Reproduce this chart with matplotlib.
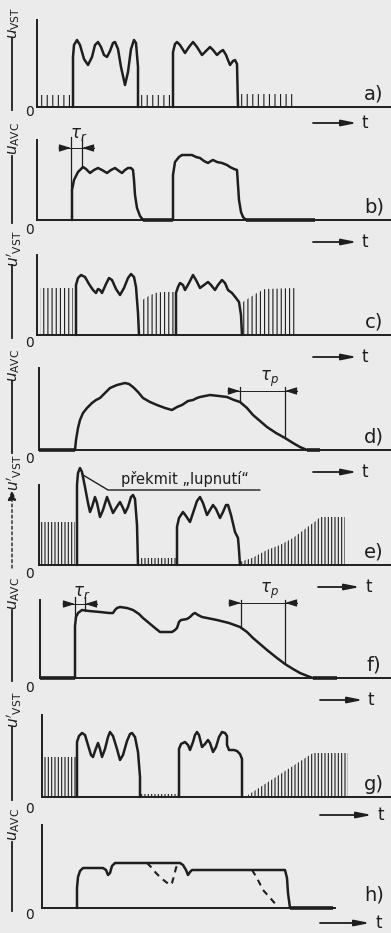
import matplotlib.pyplot as plt

plt.rcParams['font.family'] = 'DejaVu Sans'
plt.rcParams['mathtext.fontset'] = 'dejavusans'
plt.rcParams['hatch.linewidth'] = 0.8

INK = '#1e1e1e'
PAPER = '#ebebeb'

# panel geometry (baseline row in px, axis start, axis height)
baselines = [107, 220, 335, 450, 565, 678, 797, 908]
axis_t = [0, 0, 0, 2, 2, 3, 5, 5]
axis_top = [87, 80, 80, 82, 80, 78, 82, 83]
base_end = [354, 354, 354, 354, 354, 354, 354, 298]
letters = ['a)', 'b)', 'c)', 'd)', 'e)', 'f)', 'g)', 'h)']
ylabels = [r"$u_{\mathrm{VST}}$", r"$u_{\mathrm{AVC}}$", r"$u'_{\mathrm{VST}}$", r"$u_{\mathrm{AVC}}$",
           r"$u'_{\mathrm{VST}}$", r"$u_{\mathrm{AVC}}$", r"$u'_{\mathrm{VST}}$", r"$u_{\mathrm{AVC}}$"]
ylabel_u = [84, 82, 86, 85, 92, 85, 87, 84]
yline_top = [69, 64, 70, 69, 75, 68, 70, 66]
zero_u = [-5, -10, -8, -9, -9, -10, -12, -7]
tarrow_u = [-16, -22, -22, -22, -22, -22, -18, -15]
tarrow_t = [(276, 320), (276, 320), (276, 320), (276, 320), (281, 323), (283, 326), (283, 335), (283, 333)]

# a) input signal with noise between the bursts
a_pulse1 = [(36, 0), (36, 50), (37, 62), (40, 67), (43, 62), (47, 48), (51, 42), (55, 50), (58, 62), (61, 65),
            (64, 60), (67, 52), (70, 50), (73, 56), (76, 64), (78, 65), (81, 58), (84, 40), (88, 22), (91, 35),
            (94, 58), (97, 67), (99, 64), (101, 40), (101, 0)]
a_pulse2 = [(136, 0), (136, 55), (138, 63), (140, 65), (143, 62), (148, 54), (152, 60), (156, 65), (160, 60),
            (165, 52), (169, 56), (173, 60), (176, 57), (180, 52), (183, 55), (186, 57), (189, 52), (193, 42),
            (196, 46), (198, 47), (200, 43), (201, 0)]
a_carrier = [([1, 33], [12, 12]), ([103, 133], [12, 12]), ([203, 258], [13, 13])]

# b) AVC voltage
b_pulse1 = [(35, 0), (35, 30), (37, 40), (41, 48), (46, 53), (49, 51), (53, 47), (57, 50), (61, 52), (65, 50),
            (70, 47), (74, 50), (78, 52), (82, 49), (85, 47), (88, 50), (91, 52), (94, 52), (96, 50), (97, 40),
            (98, 25), (100, 12), (103, 4), (106, 0)]
b_pulse2 = [(136, 0), (136, 45), (138, 58), (142, 63), (145, 65), (150, 65), (155, 65), (159, 63), (163, 62),
            (167, 59), (171, 57), (174, 59), (176, 60), (180, 58), (185, 57), (190, 55), (193, 53), (197, 51),
            (200, 50), (201, 35), (202, 20), (204, 8), (206, 3), (209, 0)]
b_rest = [(106, 136), (209, 278)]

# c) output with noise
c_pulse1 = [(39, 0), (39, 50), (41, 57), (44, 60), (48, 58), (52, 51), (56, 45), (59, 42), (61, 46), (63, 45),
            (65, 42), (69, 51), (72, 57), (75, 55), (79, 46), (83, 40), (87, 47), (91, 57), (94, 61), (97, 58),
            (99, 48), (101, 22), (102, 0)]
c_pulse2 = [(139, 0), (139, 42), (141, 48), (143, 52), (146, 50), (148, 45), (152, 52), (156, 60), (159, 55),
            (163, 47), (167, 50), (171, 53), (174, 50), (178, 45), (181, 50), (185, 55), (188, 52), (191, 45),
            (195, 42), (199, 37), (202, 33), (204, 20), (205, 0)]
c_carrier = [([3, 36], [47, 47]), ([104, 110, 118, 126, 137], [34, 38, 42, 43, 43]),
             ([206, 212, 220, 228, 260], [33, 37, 42, 46, 47])]

# d) slow AVC
d_curve = [(38, 0), (39, 10), (41, 22), (43, 30), (46, 37), (50, 42), (55, 47), (59, 50), (63, 52), (68, 57),
           (73, 62), (80, 65), (88, 67), (92, 66), (96, 63), (101, 58), (106, 52), (113, 48), (120, 45), (128, 42),
           (135, 40), (140, 43), (145, 45), (151, 49), (156, 50), (160, 52), (163, 53), (173, 55), (182, 54),
           (190, 53), (197, 50), (203, 48), (210, 42), (216, 35), (223, 29), (230, 23), (239, 17), (248, 12),
           (256, 7), (263, 3), (270, 0)]
d_rest = [(2, 38), (270, 283)]

# e) output with overshoot
e_pulse1 = [(40, 0), (40, 80), (41, 92), (43, 97), (45, 93), (48, 78), (51, 62), (53, 53), (55, 58), (58, 68),
            (60, 62), (63, 48), (66, 55), (70, 68), (73, 60), (76, 52), (79, 57), (83, 63), (86, 57), (88, 52),
            (91, 58), (94, 68), (96, 70), (98, 66), (100, 40), (101, 0)]
e_pulse2 = [(140, 0), (140, 38), (142, 47), (146, 53), (149, 49), (153, 43), (157, 55), (160, 64), (163, 68),
            (166, 62), (170, 50), (173, 55), (176, 60), (179, 56), (183, 47), (186, 53), (189, 60), (191, 60),
            (194, 50), (198, 33), (201, 27), (202, 15), (203, 0)]
e_carrier = [([3, 38], [43, 43]), ([103, 140], [7, 7]),
             ([203, 215, 230, 243, 256, 268, 280, 283, 308], [3, 7, 15, 20, 27, 36, 45, 48, 48])]
e_leader = [(46, 90), (71, 75), (223, 75)]

# f) AVC with short attack, long release
f_curve = [(38, 0), (38, 52), (39, 61), (41, 65), (45, 68), (52, 67), (63, 66), (72, 65), (76, 65), (78, 68),
           (80, 70), (83, 71), (90, 70), (96, 68), (102, 64), (106, 60), (112, 55), (118, 50), (123, 46), (130, 46),
           (135, 46), (138, 48), (140, 50), (142, 56), (144, 58), (150, 59), (153, 61), (156, 64), (158, 65),
           (161, 63), (165, 61), (180, 58), (192, 55), (203, 51), (210, 46), (216, 40), (223, 34), (230, 28),
           (240, 20), (248, 14), (256, 9), (263, 5), (273, 1), (276, 0)]
f_rest = [(3, 38), (276, 300)]

# g) output, slow recovery of the noise
g_pulse1 = [(40, 0), (40, 55), (42, 61), (45, 64), (48, 62), (51, 52), (54, 42), (56, 40), (58, 46), (61, 54),
            (63, 48), (65, 40), (68, 48), (71, 60), (73, 65), (76, 61), (80, 48), (83, 37), (86, 42), (90, 56),
            (93, 63), (95, 64), (98, 60), (101, 45), (103, 20), (103, 0)]
g_pulse2 = [(142, 0), (142, 48), (144, 53), (148, 55), (151, 52), (153, 47), (156, 55), (158, 62), (160, 65),
            (162, 62), (165, 50), (168, 53), (171, 57), (173, 54), (176, 45), (179, 50), (182, 60), (185, 65),
            (188, 64), (190, 61), (190, 52), (192, 47), (197, 47), (200, 46), (203, 43), (205, 38), (205, 0)]
g_carrier = [([6, 40], [40, 40]), ([103, 141], [3, 3]), ([211, 276, 311], [2, 44, 44])]

# h) AVC with hold
h_solid = [(40, 0), (40, 20), (41, 31), (43, 37), (46, 40), (66, 40), (69, 38), (71, 33), (73, 35), (75, 42),
           (78, 45), (143, 45), (146, 43), (149, 38), (151, 33), (153, 36), (155, 38), (248, 38), (250, 30),
           (251, 15), (253, 0)]
h_dash1 = [(110, 45), (114, 41), (119, 35), (124, 30), (129, 26), (133, 23), (135, 25), (137, 32), (139, 40),
           (141, 45)]
h_dash2 = [(215, 38), (220, 30), (226, 18), (235, 8), (241, 1)]
h_rest = [(253, 296)]

# tau markers: (left, right, arrow level, tops, bottoms, label, label t, label u)
taus = {
    1: [(34, 45, 72, 83, (30, 53), r"$\tau_r$", 42, 86)],
    3: [(203, 248, 59, 63, (48, 12), r"$\tau_p$", 232, 71)],
    5: [(38, 48, 74, 81, (60, 67), r"$\tau_r$", 45, 86),
        (204, 248, 75, 78, (51, 14), r"$\tau_p$", 232, 87)],
}


def curve(ax, pts, ls='-', lw=1.8):
    ts = [p[0] for p in pts]
    us = [p[1] for p in pts]
    ax.plot(ts, us, color=INK, lw=lw, ls=ls, solid_joinstyle='round', solid_capstyle='round', zorder=4)


def carrier(ax, blocks, hatch):
    for ts, us in blocks:
        ax.fill_between(ts, 0, us, facecolor='none', edgecolor=INK, linewidth=0, hatch=hatch, zorder=2)


def rest(ax, segs):
    for t1, t2 in segs:
        ax.plot([t1, t2], [0.5, 0.5], color=INK, lw=2.6, solid_capstyle='butt', zorder=3)


def tau(ax, left, right, au, top, bottoms, label, lt, lu):
    ax.plot([left, left], [bottoms[0], top], color=INK, lw=0.9)
    ax.plot([right, right], [bottoms[1], top], color=INK, lw=0.9)
    ax.plot([left - 12, right + 12], [au, au], color=INK, lw=0.7)
    for x_from, x_to in ((left - 12, left), (right + 12, right)):
        ax.annotate('', xy=(x_to, au), xytext=(x_from, au),
                    arrowprops=dict(arrowstyle='-|>,head_length=0.7,head_width=0.22', color=INK, lw=0.8,
                                    shrinkA=0, shrinkB=0))
    ax.text(lt, lu, label, fontsize=12, color=INK, ha='center', va='center')


def frame(ax, i):
    t0 = axis_t[i]
    ax.set_xlim(-37, 354)
    ax.set_ylim(-30, 105)
    ax.set_facecolor('none')
    ax.set_xticks([])
    ax.set_yticks([])
    ax.spines['top'].set_visible(False)
    ax.spines['right'].set_visible(False)
    ax.spines['left'].set_position(('data', t0))
    ax.spines['left'].set_bounds(0, axis_top[i])
    ax.spines['bottom'].set_position(('data', 0))
    ax.spines['bottom'].set_bounds(t0, base_end[i])
    for s in ('left', 'bottom'):
        ax.spines[s].set_linewidth(1.4)
        ax.spines[s].set_color(INK)

    # y label with its shaft
    ax.text(-23, ylabel_u[i], ylabels[i], rotation=90, fontsize=11, color=INK, ha='center', va='center',
            clip_on=False)
    if i == 4:
        ax.annotate('', xy=(-25, yline_top[i]), xytext=(-25, -3),
                    arrowprops=dict(arrowstyle='-|>,head_length=0.6,head_width=0.25', color=INK, lw=1.0,
                                    ls=(0, (2, 2)), shrinkA=0, shrinkB=0), annotation_clip=False)
    else:
        ax.plot([-25, -25], [-3, yline_top[i]], color=INK, lw=1.3, clip_on=False)
    ax.text(-7, zero_u[i], '0', fontsize=10, color=INK, ha='center', va='center')

    # time arrow
    t1, t2 = tarrow_t[i]
    ax.annotate('', xy=(t2, tarrow_u[i]), xytext=(t1, tarrow_u[i]),
                arrowprops=dict(arrowstyle='-|>,head_length=0.9,head_width=0.18', color=INK, lw=1.3,
                                shrinkA=0, shrinkB=0), annotation_clip=False)
    ax.text(t2 + 5, tarrow_u[i], 't', fontsize=12, color=INK, ha='left', va='center')

    ax.text(337, 13, letters[i], fontsize=14, color=INK, ha='center', va='center')


def main():
    fig = plt.figure(figsize=(3.91, 9.33), dpi=100, facecolor=PAPER)
    H = 933.0
    axes = []
    for b in baselines:
        ax = fig.add_axes([0, (H - (b + 30)) / H, 1, 135 / H])
        axes.append(ax)
    for i, ax in enumerate(axes):
        frame(ax, i)

    ax = axes[0]
    carrier(ax, a_carrier, '|||')
    curve(ax, a_pulse1)
    curve(ax, a_pulse2)

    ax = axes[1]
    rest(ax, b_rest)
    curve(ax, b_pulse1)
    curve(ax, b_pulse2)

    ax = axes[2]
    carrier(ax, c_carrier, '||||')
    curve(ax, c_pulse1)
    curve(ax, c_pulse2)

    ax = axes[3]
    rest(ax, d_rest)
    curve(ax, d_curve)

    ax = axes[4]
    carrier(ax, e_carrier, '|||||')
    curve(ax, e_pulse1)
    curve(ax, e_pulse2)
    curve(ax, e_leader, lw=1.0)
    ax.text(84, 78, u"překmit \u201elupnutí\u201c", fontsize=10.5, color=INK, ha='left', va='bottom')

    ax = axes[5]
    rest(ax, f_rest)
    curve(ax, f_curve)

    ax = axes[6]
    carrier(ax, g_carrier, '|||||')
    curve(ax, g_pulse1)
    curve(ax, g_pulse2)

    ax = axes[7]
    rest(ax, h_rest)
    curve(ax, h_solid)
    curve(ax, h_dash1, ls=(0, (3, 2.5)), lw=1.5)
    curve(ax, h_dash2, ls=(0, (3, 2.5)), lw=1.5)

    for i, marks in taus.items():
        for m in marks:
            tau(axes[i], *m)

    fig.savefig("out.png", dpi=100, facecolor=PAPER)


if __name__ == "__main__":
    main()
